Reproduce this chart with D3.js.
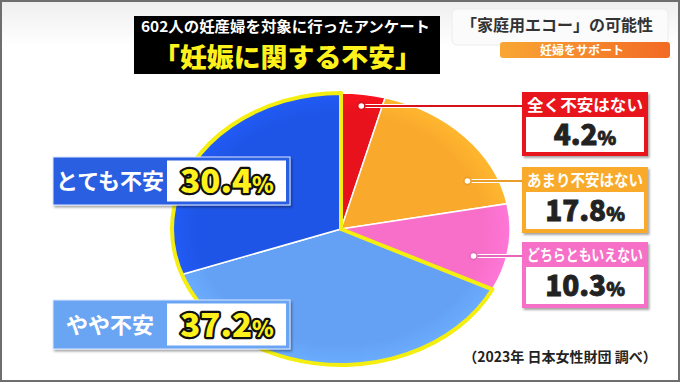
<!DOCTYPE html>
<html><head><meta charset="utf-8">
<script src="https://cdn.jsdelivr.net/npm/d3@7"></script>
<style>
html,body{margin:0;padding:0;background:#fff;}
svg{display:block;font-family:"Noto Sans CJK JP","Noto Sans",sans-serif;}
</style></head>
<body>
<svg id="c" width="680" height="382"></svg>
<script>
// ---- data ----
const categories = ["全く不安はない","あまり不安はない","どちらともいえない","やや不安","とても不安"];
const values = [4.2, 17.8, 10.3, 37.2, 30.4];
const colors = ["#e8121c","#f9aa2c","#f76fc8","#64a1f4","#1f55e6"];
const titleLine1 = "602人の妊産婦を対象に行ったアンケート";
const titleLine2 = "「妊娠に関する不安」";
const topicText = "「家庭用エコー」の可能性";
const bannerText = "妊婦をサポート";
const sourceText = "（2023年 日本女性財団 調べ）";

const svg = d3.select("#c");
const defs = svg.append("defs");

// background
const bg = defs.append("linearGradient").attr("id","bg").attr("x1",0).attr("y1",0).attr("x2",0).attr("y2",1);
bg.append("stop").attr("offset","0").attr("stop-color","#eeeeee");
bg.append("stop").attr("offset","0.12").attr("stop-color","#ffffff");
bg.append("stop").attr("offset","1").attr("stop-color","#ffffff");
svg.append("rect").attr("width",680).attr("height",382).attr("fill","url(#bg)");
svg.append("rect").attr("x",1).attr("y",1).attr("width",678).attr("height",380)
  .attr("fill","none").attr("stroke","#6e6e6e").attr("stroke-width",2);

const shadow = defs.append("filter").attr("id","sh").attr("x","-10%").attr("y","-10%").attr("width","130%").attr("height","140%");
shadow.append("feDropShadow").attr("dx",1.5).attr("dy",2).attr("stdDeviation",1.2).attr("flood-color","#000").attr("flood-opacity",0.35);

// ---- pie (elliptical) ----
const cx = 341, cy = 229, rx = 169, ry = 136, R = 100;
const pie = d3.pie().sort(null).value(d => d)(values);
const arc = d3.arc().innerRadius(0).outerRadius(R);

const pg = svg.append("g").attr("transform",`translate(${cx},${cy}) scale(${rx/R},${ry/R})`);
colors.forEach((c,i)=>{
  const g = defs.append("radialGradient").attr("id","pg"+i)
    .attr("gradientUnits","userSpaceOnUse").attr("cx",0).attr("cy",0).attr("r",R);
  g.append("stop").attr("offset","0").attr("stop-color",c);
  g.append("stop").attr("offset","0.85").attr("stop-color",c);
  g.append("stop").attr("offset","1").attr("stop-color",d3.color(c).brighter(0.2));
});
pg.selectAll("path.s").data(pie).join("path").attr("class","s")
  .attr("d",arc).attr("fill",(d,i)=>`url(#pg${i})`)
  .attr("stroke","#fff").attr("stroke-width",1.5).attr("vector-effect","non-scaling-stroke");
// yellow outline around the "anxious" group
const grp = {startAngle: pie[3].startAngle, endAngle: pie[4].endAngle};
pg.append("path").attr("d",arc(grp)).attr("fill","none")
  .attr("stroke","#f4ef10").attr("stroke-width",4).attr("stroke-linejoin","round")
  .attr("vector-effect","non-scaling-stroke");

// ---- title ----
svg.append("rect").attr("x",134).attr("y",16).attr("width",306).attr("height",58).attr("fill","#000");
svg.append("text").attr("x",141).attr("y",32)
  .attr("textLength",289).attr("lengthAdjust","spacingAndGlyphs")
  .attr("font-size",15).attr("font-weight",700).attr("fill","#fff").text(titleLine1);
svg.append("text").attr("x",153).attr("y",67)
  .attr("textLength",269).attr("lengthAdjust","spacingAndGlyphs")
  .attr("font-size",26).attr("font-weight",900).attr("fill","#fff21c").text(titleLine2);

// ---- top-right caption ----
svg.append("rect").attr("x",452).attr("y",9).attr("width",216).attr("height",36).attr("rx",5)
  .attr("fill","#fbfbfb").attr("stroke","#ececec");
svg.append("text").attr("x",557).attr("y",31).attr("text-anchor","middle")
  .attr("font-size",16).attr("font-weight",700).attr("fill","#333").text(topicText);
const bn = defs.append("linearGradient").attr("id","bn");
bn.append("stop").attr("offset","0").attr("stop-color","#f9a634");
bn.append("stop").attr("offset","1").attr("stop-color","#f26a24");
svg.append("rect").attr("x",500).attr("y",42).attr("width",170).attr("height",16).attr("rx",3).attr("fill","url(#bn)");
svg.append("text").attr("x",582).attr("y",54.5).attr("text-anchor","middle")
  .attr("font-size",12).attr("font-weight",700).attr("fill","#fff").text(bannerText);

// ---- right-side labels (first three categories) ----
const rightBoxes = [{y:92,h:64},{y:167,h:66},{y:242,h:66}];
const bx = 522, bw = 126, hh = 25;
const hw = y => { const t = (y-cy)/ry; return t*t < 1 ? rx*Math.sqrt(1-t*t) : 0; };
rightBoxes.forEach((b,i)=>{
  const c = colors[i], d = pie[i];
  const ly = b.y + 14;
  let dxp = 0.8*hw(ly);
  let ang = Math.atan2(dxp/rx, (cy-ly)/ry);
  if (ang < d.startAngle || ang > d.endAngle) {
    const m = (d.startAngle+d.endAngle)/2;
    const t = (cy-ly)/(ry*Math.cos(m));
    dxp = t*rx*Math.sin(m);
  }
  const dotx = cx + dxp;
  svg.append("line").attr("x1",dotx).attr("x2",bx).attr("y1",ly).attr("y2",ly)
    .attr("stroke","#fff").attr("stroke-width",4);
  svg.append("line").attr("x1",dotx).attr("x2",bx).attr("y1",ly).attr("y2",ly)
    .attr("stroke",d3.color(c).darker(0.2)).attr("stroke-width",1.8);
  svg.append("circle").attr("cx",dotx).attr("cy",ly).attr("r",3.6)
    .attr("fill","#fff").attr("stroke",d3.color(c).darker(0.2)).attr("stroke-width",1.6);

  const g = svg.append("g");
  g.append("rect").attr("x",bx).attr("y",b.y).attr("width",bw).attr("height",b.h).attr("fill",c)
    .attr("filter","url(#sh)");
  g.append("rect").attr("x",bx+4).attr("y",b.y+hh).attr("width",bw-8).attr("height",b.h-hh-4).attr("fill","#fff");
  g.append("text").attr("x",bx+5).attr("y",b.y+19)
    .attr("textLength",bw-10).attr("lengthAdjust","spacingAndGlyphs")
    .attr("font-size",16).attr("font-weight",700).attr("fill","#fff").text(categories[i]);
  const vt = g.append("text").attr("x",bx+bw/2).attr("y",b.y+hh+(b.h-hh-4)/2+10).attr("text-anchor","middle")
    .attr("font-weight",900).attr("fill","#222").attr("font-size",28)
    .attr("stroke","#222").attr("stroke-width",0.8);
  vt.append("tspan").text(values[i].toFixed(1));
  vt.append("tspan").attr("font-size",19).text("%");
});

// ---- left-side labels (last two categories) ----
const leftBoxes = [{idx:4,y:157,h:48,fill:"#2a5fe2"},{idx:3,y:300,h:49,fill:"#6aa5f3"}];
leftBoxes.forEach(b=>{
  const g = svg.append("g");
  g.append("rect").attr("x",53).attr("y",b.y).attr("width",237).attr("height",b.h)
    .attr("fill",b.fill).attr("stroke","#dfe8ff").attr("stroke-width",1).attr("filter","url(#sh)");
  g.append("rect").attr("x",167).attr("y",b.y+3.5).attr("width",119).attr("height",b.h-7).attr("fill","#fff");
  g.append("text").attr("x",110).attr("y",b.y+b.h/2+8).attr("text-anchor","middle")
    .attr("font-size",22).attr("font-weight",700).attr("fill","#fff").text(categories[b.idx]);
  const t = g.append("text").attr("x",227).attr("y",b.y+b.h/2+12).attr("text-anchor","middle")
    .attr("font-size",33).attr("font-weight",900).attr("fill","#fff21c")
    .attr("stroke","#111").attr("stroke-width",4.5).attr("stroke-linejoin","round")
    .attr("paint-order","stroke");
  t.append("tspan").text(values[b.idx].toFixed(1));
  t.append("tspan").attr("font-size",22).text("%");
});

// ---- source ----
svg.append("text").attr("x",560).attr("y",362).attr("text-anchor","middle")
  .attr("font-size",14).attr("font-weight",700).attr("fill","#222").text(sourceText);
</script>
</body></html>
